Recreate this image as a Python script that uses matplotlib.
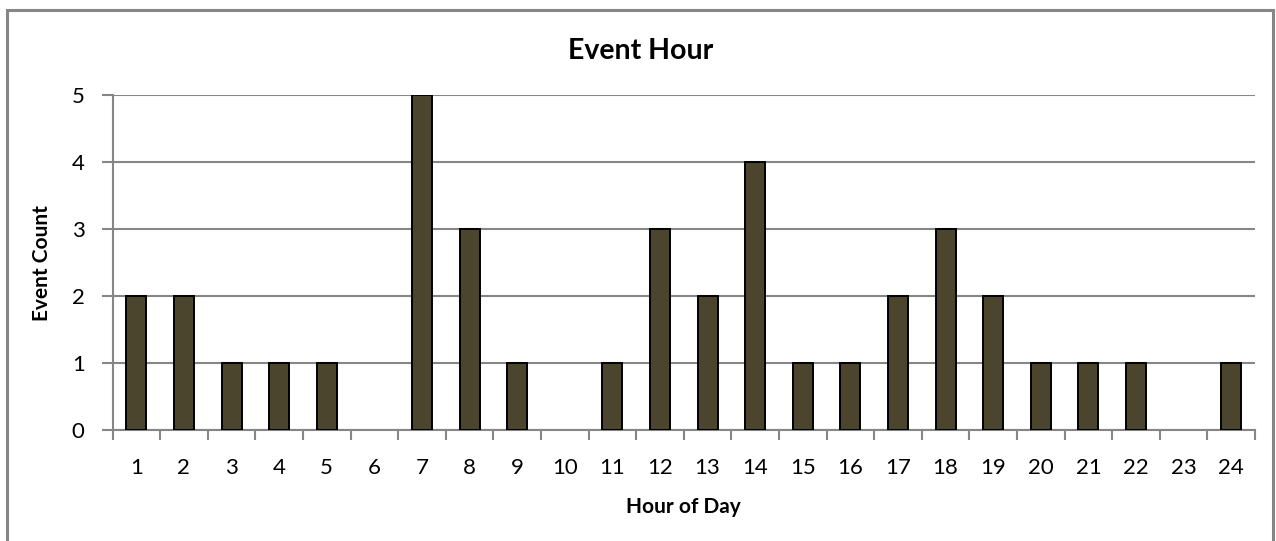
import matplotlib
matplotlib.use("Agg")
import matplotlib.pyplot as plt
from matplotlib.patches import Rectangle

hours = [str(h) for h in range(1, 25)]
counts = [2, 2, 1, 1, 1, 0, 5, 3, 1, 0, 1, 3, 2, 4, 1, 1, 2, 3, 2, 1, 1, 1, 0, 1]
y_ticks = [0, 1, 2, 3, 4, 5]

plt.rcParams['font.family'] = ['Lato', 'DejaVu Sans']

W, H = 1276, 541
fig = plt.figure(figsize=(W / 100, H / 100), dpi=100)

# chart-area frame
fig.patches.append(Rectangle((7 / W, -0.01), (1273 - 7) / W, 1 - 10 / H + 0.01,
                             transform=fig.transFigure, fill=False,
                             edgecolor='#868686', linewidth=2.2))

left, right, top, bottom = 112.5, 1255, 95, 430
ax = fig.add_axes([left / W, 1 - bottom / H, (right - left) / W, (bottom - top) / H])

grid_c = '#868686'
x = list(range(len(hours)))
edges = ['black' if c > 0 else 'none' for c in counts]
ax.bar(x, counts, width=0.42, color='#4a452c', edgecolor=edges, linewidth=1.4, zorder=3)

ax.set_xlim(-0.5, len(hours) - 0.5)
ax.set_ylim(0, 5)
ax.set_yticks(y_ticks)
ax.set_yticklabels([str(v) for v in y_ticks], fontsize=16)
ax.yaxis.grid(True, color=grid_c, linewidth=1.5, zorder=0)

ax.set_xticks(x)
ax.set_xticklabels(hours, fontsize=16)
ax.set_xticks([i - 0.5 for i in range(len(hours) + 1)], minor=True)
ax.tick_params(axis='x', which='major', length=0, pad=20)
ax.tick_params(axis='x', which='minor', length=7, width=1.5, color=grid_c, direction='out')
ax.tick_params(axis='y', length=8, width=1.5, color=grid_c, direction='out', pad=12)

for s in ['top', 'right']:
    ax.spines[s].set_visible(False)
for s in ['left', 'bottom']:
    ax.spines[s].set_color(grid_c)
    ax.spines[s].set_linewidth(1.5)

fig.text(641 / W, 1 - 51 / H, 'Event Hour', ha='center', va='center',
         fontsize=20.5, fontweight='bold')
fig.text(683 / W, 1 - 507 / H, 'Hour of Day', ha='center', va='center',
         fontsize=15, fontweight='bold')
fig.text(42 / W, 1 - 263 / H, 'Event Count', ha='center', va='center',
         fontsize=15, fontweight='bold', rotation=90)

fig.savefig('out.png', dpi=100)
